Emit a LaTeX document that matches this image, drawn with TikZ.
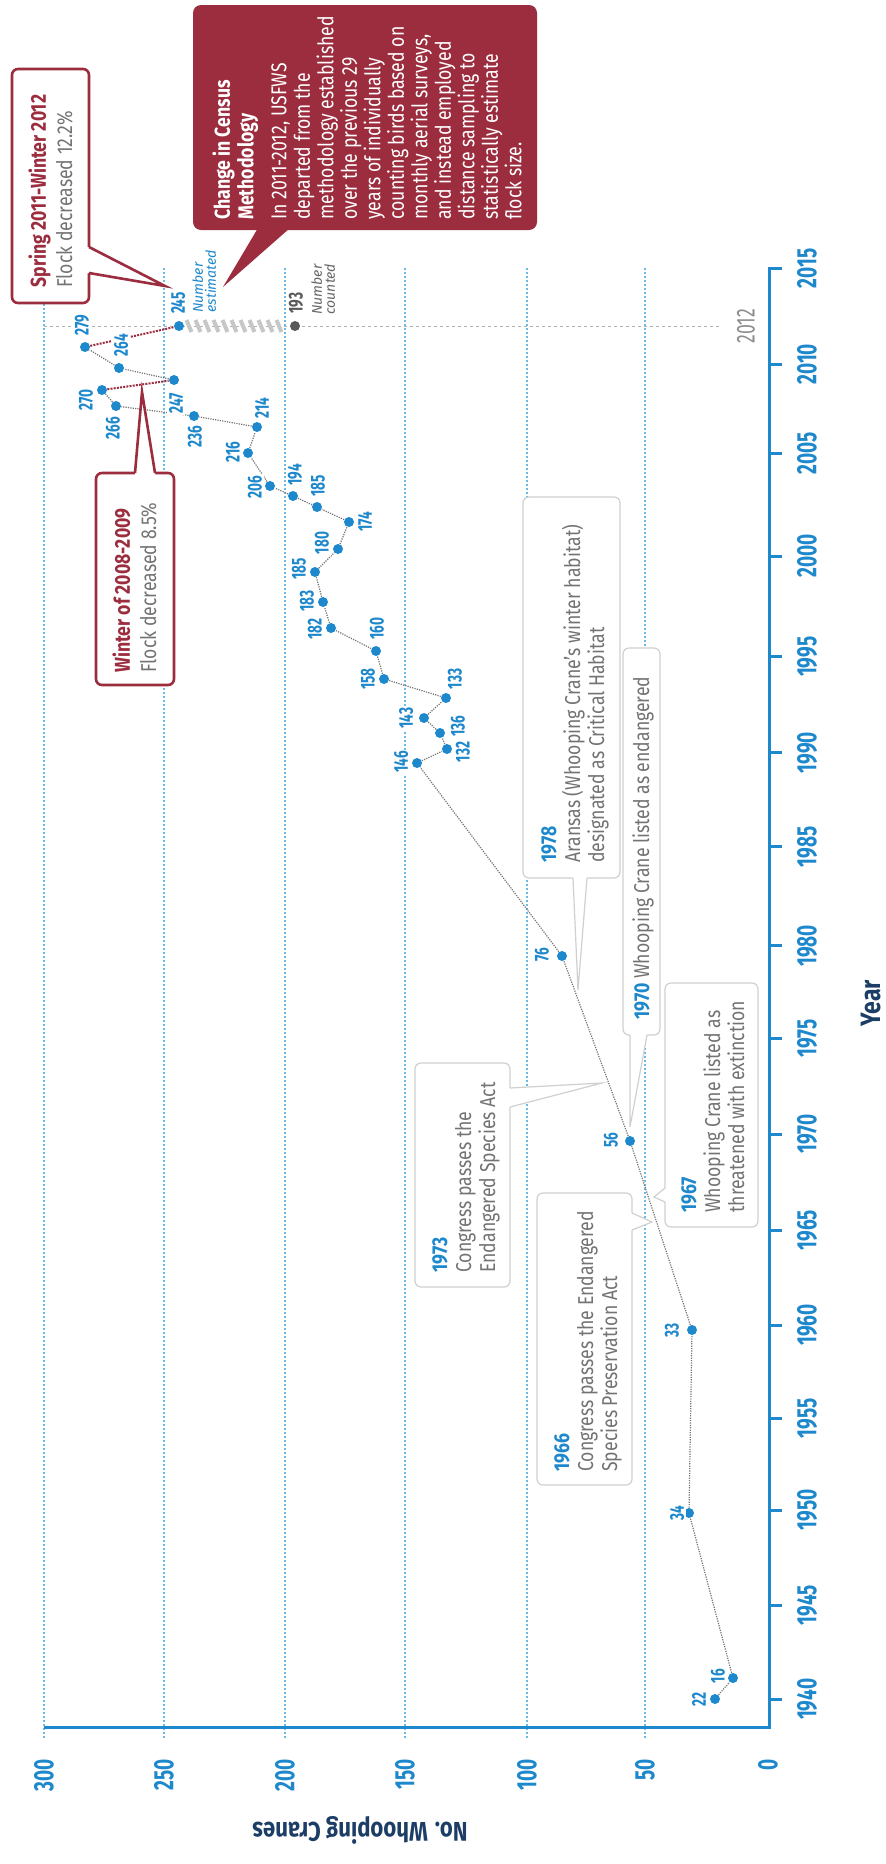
\documentclass[tikz,border=0pt]{standalone}
\usepackage{fontspec}
\setmainfont{Fira Sans}[FakeStretch=0.82]
\newfontfamily\numfont{Fira Sans}[FakeStretch=0.68]
\newfontfamily\smallfont{Fira Sans}
\definecolor{cblue}{RGB}{30,136,204}
\definecolor{gridblue}{RGB}{105,187,232}
\definecolor{navy}{RGB}{28,62,102}
\definecolor{cred}{RGB}{155,45,62}
\definecolor{tgray}{RGB}{115,115,115}
\definecolor{bgray}{RGB}{208,208,208}
\begin{document}
\begin{tikzpicture}[x=0.5pt,y=-0.5pt,
  gridline/.style={gridblue, line width=1pt, dash pattern=on 1pt off 1pt},
  axisline/.style={cblue, line width=1.5pt},
  series/.style={black!55, line width=0.6pt, dash pattern=on 0.6pt off 0.6pt},
  redline/.style={cred, line width=1pt, dash pattern=on 1pt off 0.6pt},
  dot/.style={circle, fill=cblue, inner sep=0pt, minimum size=5pt},
  val/.style={rotate=90, text=cblue, fill=white, inner sep=0.8pt, font=\numfont\bfseries\fontsize{10}{10}\selectfont},
  ticklab/.style={rotate=90, text=cblue, fill=white, inner sep=0.8pt, font=\numfont\bfseries\fontsize{14}{14}\selectfont},
  note/.style={rotate=90, anchor=north west, align=left, inner sep=0pt, text=tgray, font=\fontsize{10.75}{12}\selectfont},
  rnote/.style={rotate=90, anchor=north west, align=left, inner sep=0pt, text=tgray, font=\fontsize{10.75}{13.2}\selectfont},
  wnote/.style={rotate=90, anchor=north west, align=left, inner sep=0pt, text=white, font=\fontsize{10.75}{11.75}\selectfont},
  small/.style={rotate=90, anchor=north west, align=left, inner sep=0pt, font=\smallfont\itshape\fontsize{7}{6.5}\selectfont},
  gbox/.style={draw=bgray, line width=0.6pt, fill=white, rounded corners=3pt},
  rbox/.style={draw=cred, line width=1.3pt, fill=white, rounded corners=3pt}
]
\useasboundingbox (0,0) rectangle (885,1864);

% grid
\foreach \c/\X in {300/44, 250/164, 200/285, 150/405, 100/527, 50/645} {
  \draw[gridline] (\X,268) -- (\X,1738);
}

% axes
\coordinate (axtop) at (782,268);
\coordinate (axcorner) at (769,1727);
\coordinate (axleft) at (44,1727);
\draw[axisline] (axtop) -- (769,268) -- (axcorner) -- (axleft);
\foreach \yr/\Y in {1940/1699.3, 1945/1605, 1950/1510, 1955/1418.3, 1960/1325, 1965/1230, 1970/1134, 1975/1038.7, 1980/945.7, 1985/846.7, 1990/752.7, 1995/656.7, 2000/556, 2005/453.3, 2010/364.3, 2015/268.3} {
  \draw[axisline] (769,\Y) -- (782,\Y);
  \node[ticklab] (y\yr) at (807,\Y) {\yr};
}
\foreach \c/\X in {300/44, 250/164, 200/285, 150/405, 100/527, 50/645} {
  \node[ticklab, anchor=east] (c\c) at (\X,1757) {\c};
}
\node[ticklab, anchor=east] (c0) at (768,1757) {0};
\node[rotate=90, inner sep=0pt, text=navy, font=\bfseries\fontsize{14}{14}\selectfont] (ytitle) at (871,1003) {Year};
\node[rotate=180, inner sep=0pt, text=navy, font=\bfseries\fontsize{13.5}{13.5}\selectfont] (ctitle) at (360,1830) {No. Whooping Cranes};

% 2012 reference line
\coordinate (r0) at (44,326);
\coordinate (r1) at (722,326);
\draw[black!30, line width=0.5pt, dash pattern=on 1.5pt off 1.5pt] (r0) -- (r1);
\node[rotate=90, text=black!45, inner sep=0pt, font=\numfont\fontsize{13}{13}\selectfont] (l2012) at (746,326) {2012};

% hatched bar between estimated and counted
\foreach \X in {189,198,...,285} {
  \draw[black!22, line width=2pt] (\X-2.5,320) -- (\X+2.5,332);
}

% points
\foreach \n/\X/\Y in {22/715/1699, 16/733/1678, 34/689/1513, 33/692/1330, 56/630/1141, 76/562/956,
  146/417/763, 132/447/749, 136/440/733, 143/424/718, 133/446/698, 158/384/679, 160/376/651,
  182/331/628, 183/323/602, 185a/315/572, 180/338/549, 174/349/522, 185b/317/507, 194/293/496,
  206/270/486, 216/248/453, 214/257/427, 236/194/416, 266/116/406, 270/102/390, 247/174/380,
  264/119/368, 279/85/347, 245/179/326} {
  \node[dot] (p\n) at (\X,\Y) {};
}
\node[dot, fill=black!65] (p193) at (295,326) {};

% series
\draw[series] (p22) -- (p16) -- (p34) -- (p33) -- (p56) -- (p76) -- (p146) -- (p132) -- (p136)
  -- (p143) -- (p133) -- (p158) -- (p160) -- (p182) -- (p183) -- (p185a) -- (p180) -- (p174)
  -- (p185b) -- (p194) -- (p206) -- (p216) -- (p214) -- (p236) -- (p266) -- (p270);
\draw[series] (p247) -- (p264) -- (p279);
\draw[redline] (p270) -- (p247);
\draw[redline] (p279) -- (p245);

% value labels
\foreach \n/\t/\X/\Y in {22/22/699/1699, 16/16/718/1676, 34/34/677/1513, 33/33/672/1330, 56/56/611/1140,
  76/76/542/955, 146/146/401/762, 132/132/463/752, 136/136/458/726, 143/143/406/718, 133/133/455/679,
  158/158/368/679, 160/160/377/629, 182/182/315/629, 183/183/307/601, 185a/185/299/569, 180/180/322/543,
  174/174/365/522, 185b/185/318/486, 194/194/295/475, 206/206/255/487, 216/216/233/452, 214/214/262/408,
  236/236/195/437, 266/266/113/428, 270/270/86/400, 247/247/176/403, 264/264/121/345, 279/279/82/325,
  245/245/178/303} {
  \node[val] (v\n) at (\X,\Y) {\t};
}
\node[val, text=black!65] (v193) at (296,303) {193};
\node[small, text=cblue] (nest) at (192,313) {Number\\estimated};
\node[small, text=black!60] (ncnt) at (311,315) {Number\\counted};

% ---- callouts ----
% Spring 2011 - Winter 2012
\draw[rbox] (12,69) rectangle (89,303);
\fill[white] (85,247) -- (89,247) -- (165,286) -- (89,273) -- (85,273) -- cycle;
\draw[cred, line width=1.3pt] (89,247) -- (165,286) -- (89,273);
\node[rnote] (tspring) at (28,288) {\textcolor{cred}{\bfseries Spring 2011-Winter 2012}\\Flock decreased 12.2\%};

% Winter 2008-2009
\draw[rbox] (96,473) rectangle (174,685);
\fill[white] (135,477) -- (135,473) -- (142,392) -- (155,473) -- (155,477) -- cycle;
\draw[cred, line width=1.3pt] (135,473) -- (142,392) -- (155,473);
\node[rnote] (twinter) at (112,673) {\textcolor{cred}{\bfseries Winter of 2008-2009}\\Flock decreased 8.5\%};

% Change in Census Methodology
\fill[cred, rounded corners=4pt] (193,5) rectangle (537,230);
\fill[cred] (258,228) -- (223,287) -- (290,228) -- cycle;
\node[wnote, font=\bfseries\fontsize{10.75}{11.75}\selectfont] (tch) at (212,220) {Change in Census\\Methodology};
\node[wnote] (tchb) at (271,220) {In 2011-2012, USFWS\\departed from the\\methodology established\\over the previous 29\\years of individually\\counting birds based on\\monthly aerial surveys,\\and instead employed\\distance sampling to\\statistically estimate\\flock size.};

% 1978
\draw[gbox] (523,497) rectangle (620,878);
\fill[white] (573,875) -- (573,878) -- (578,990) -- (587,878) -- (587,875) -- cycle;
\draw[bgray, line width=0.6pt] (573,878) -- (578,990) -- (587,878);
\node[note] (t1978) at (541,863) {\textcolor{cblue}{\bfseries 1978}\\Aransas (Whooping Crane's winter habitat)\\designated as Critical Habitat};

% 1970
\draw[gbox] (623,648) rectangle (660,1035);
\fill[white] (630,1032) -- (630,1035) -- (630,1127) -- (647,1035) -- (647,1032) -- cycle;
\draw[bgray, line width=0.6pt] (630,1035) -- (630,1127) -- (647,1035);
\node[note] (t1970) at (632,1020) {\textcolor{cblue}{\bfseries 1970} Whooping Crane listed as endangered};

% 1967
\draw[gbox] (665,983) rectangle (758,1227);
\fill[white] (668,1188) -- (665,1188) -- (654,1197) -- (665,1202) -- (668,1202) -- cycle;
\draw[bgray, line width=0.6pt] (665,1188) -- (654,1197) -- (665,1202);
\node[note] (t1967) at (681,1213) {\textcolor{cblue}{\bfseries 1967}\\Whooping Crane listed as\\threatened with extinction};

% 1973
\draw[gbox] (415,1063) rectangle (510,1287);
\fill[white] (507,1088) -- (510,1088) -- (602,1083) -- (510,1107) -- (507,1107) -- cycle;
\draw[bgray, line width=0.6pt] (510,1088) -- (602,1083) -- (510,1107);
\node[note] (t1973) at (432,1273) {\textcolor{cblue}{\bfseries 1973}\\Congress passes the\\Endangered Species Act};

% 1966
\draw[gbox] (537,1193) rectangle (632,1485);
\fill[white] (629,1213) -- (632,1213) -- (652,1222) -- (632,1230) -- (629,1230) -- cycle;
\draw[bgray, line width=0.6pt] (632,1213) -- (652,1222) -- (632,1230);
\node[note] (t1966) at (554,1472) {\textcolor{cblue}{\bfseries 1966}\\Congress passes the Endangered\\Species Preservation Act};
\end{tikzpicture}
\end{document}
